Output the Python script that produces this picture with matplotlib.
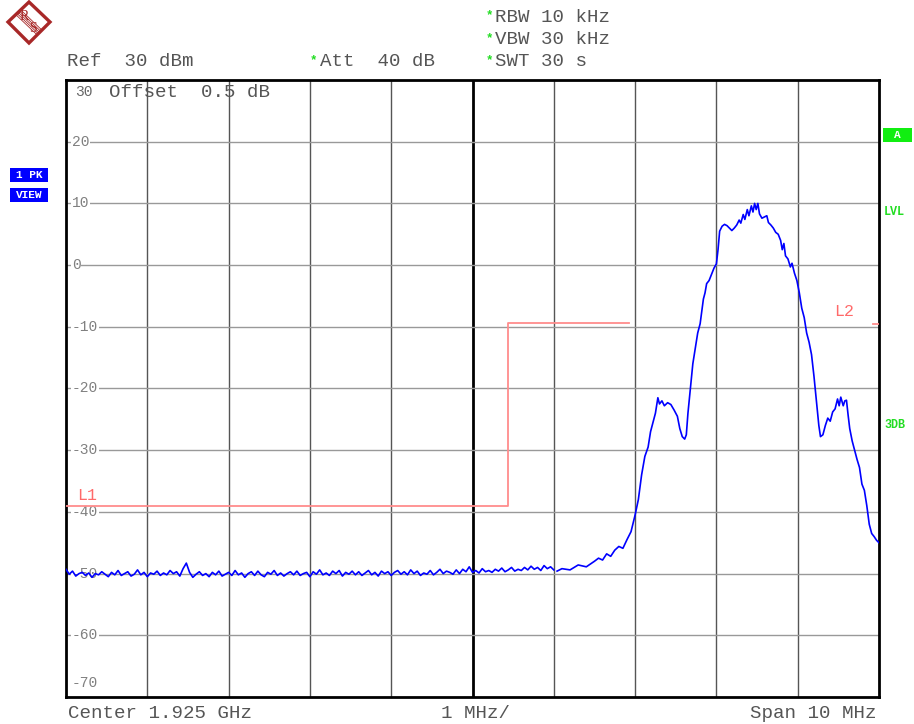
import matplotlib
matplotlib.use("Agg")
import matplotlib.pyplot as plt
import matplotlib.patches as patches
import numpy as np

# sweep data, frequency offset from centre (MHz) and level (dBm)
floor_level = [
    -49.3, -50.1, -49.6, -50.4, -50.0, -49.8, -50.3, -49.9, -50.6, -50.0,
    -50.2, -49.7, -50.1, -50.5, -49.8, -50.2, -49.5, -50.3, -50.0, -49.7,
    -50.4, -50.1, -49.4, -50.2, -49.8, -50.5, -49.9, -50.1, -49.6, -50.3,
    -49.9, -50.2, -49.5, -50.0, -49.7, -50.4, -49.2, -48.3, -49.8, -50.6,
    -50.1, -49.7, -50.3, -50.0, -50.5, -49.8, -50.2, -49.6, -50.4, -50.1,
    -49.8, -50.3, -49.5, -50.2, -49.9, -50.6, -50.0, -49.7, -50.3, -49.6,
    -50.2, -50.5, -49.8, -50.1, -49.5, -50.3, -49.9, -50.4, -50.0, -49.7,
    -50.2, -49.6, -50.3, -50.0, -49.8, -50.5, -49.7, -50.1, -49.4, -50.2,
    -49.9, -50.3, -49.6, -50.0, -49.5, -50.4, -49.8, -50.1, -49.6, -50.2,
    -49.7, -50.3, -49.9, -49.5, -50.2, -49.8, -50.4, -49.6, -50.0, -49.7,
    -50.3, -49.8, -49.5, -50.1, -49.7, -50.2, -49.4, -50.0, -49.6, -50.3,
    -49.9, -50.1, -49.5, -50.2, -49.8, -49.3, -50.0, -49.6, -49.8, -50.1,
    -49.4, -50.0, -49.3, -49.7, -48.9, -49.8, -49.5, -49.9, -49.2, -49.7,
    -49.5, -49.8, -49.3, -49.6, -49.1, -49.7, -49.4, -49.0, -49.6, -49.3,
    -49.5, -49.0, -49.4, -48.8, -49.3, -49.0, -49.5, -48.7, -49.2, -48.9,
    -49.4,
]
floor_freq = np.linspace(-5.0, 1.0, len(floor_level))

signal_freq = [
    1.04, 1.10, 1.20, 1.30, 1.40, 1.50, 1.55, 1.60, 1.65, 1.70, 1.75, 1.80,
    1.85, 1.90, 1.95, 2.00, 2.04, 2.08, 2.12, 2.16, 2.19, 2.22, 2.25, 2.28,
    2.30, 2.33, 2.36, 2.40, 2.44, 2.48, 2.52, 2.55, 2.58, 2.61, 2.63, 2.65,
    2.68, 2.71, 2.74, 2.77, 2.80, 2.84, 2.86, 2.88, 2.91, 2.94, 2.97, 3.00,
    3.02, 3.04, 3.07, 3.10, 3.13, 3.16, 3.19, 3.22, 3.25, 3.28, 3.30, 3.33,
    3.35, 3.38, 3.40, 3.43, 3.45, 3.47, 3.49, 3.51, 3.53, 3.56, 3.59, 3.62,
    3.64, 3.67, 3.70, 3.73, 3.76, 3.79, 3.81, 3.83, 3.85, 3.88, 3.91, 3.93,
    3.96, 3.99, 4.02, 4.05, 4.08, 4.11, 4.14, 4.17, 4.20, 4.23, 4.26, 4.28,
    4.31, 4.34, 4.37, 4.40, 4.43, 4.46, 4.49, 4.51, 4.53, 4.56, 4.58, 4.60,
    4.62, 4.64, 4.67, 4.70, 4.73, 4.76, 4.79, 4.82, 4.85, 4.88, 4.91, 4.94,
    4.97, 5.00,
]
signal_level = [
    -49.6, -49.2, -49.4, -48.6, -48.9, -48.0, -47.5, -47.8, -46.8, -47.2, -46.2, -45.6,
    -45.9, -44.5, -43.2, -40.5, -38.0, -34.0, -31.0, -29.5, -27.0, -25.5, -24.0, -21.5,
    -22.5, -22.0, -22.8, -22.3, -22.6, -23.5, -24.5, -26.5, -27.8, -28.2, -27.5, -24.0,
    -20.0, -16.0, -13.5, -11.0, -9.5, -5.5, -4.5, -3.0, -2.5, -1.5, -0.5, 0.2,
    2.5, 5.5, 6.3, 6.6, 6.4, 6.0, 5.6, 6.0, 6.5, 7.3, 6.8, 8.2,
    7.4, 9.0, 8.0, 9.6, 8.6, 10.0, 9.0, 10.0, 8.3, 7.6, 7.8, 8.0,
    6.9, 6.5, 6.0, 5.3, 5.0, 4.0, 2.5, 3.5, 1.5, 1.0, -0.3, 0.3,
    -1.3, -2.5, -4.5, -7.0, -8.5, -11.0, -12.5, -14.5, -18.0, -22.0, -26.0, -27.8,
    -27.5, -26.0, -24.8, -25.3, -23.8, -23.3, -21.7, -22.8, -21.4, -22.8, -22.0, -21.9,
    -24.3, -26.5, -28.5, -30.0, -31.5, -32.8, -35.5, -36.5, -39.0, -42.0, -43.5, -44.0,
    -44.6, -45.0,
]

# limit line (step) and display line
limit_freq = [-5.0, 0.44, 0.44, 1.92]
limit_level = [-39.0, -39.0, -9.4, -9.4]
l2_level = -9.5

y_ticks = [20, 10, 0, -10, -20, -30, -40, -50, -60, -70]
x_grid = [-4, -3, -2, -1, 1, 2, 3, 4]

W, H = 914, 724
mono = "Liberation Mono"
txt_col = "#555555"
green = "#22dd22"
red_line = "#ff8c8c"

fig = plt.figure(figsize=(W / 100, H / 100), dpi=100)

# overlay in pixel coordinates for the instrument annotations
ov = fig.add_axes([0, 0, 1, 1], zorder=0)
ov.set_xlim(0, W)
ov.set_ylim(H, 0)
ov.set_axis_off()

ax = fig.add_axes([66 / W, 1 - 697 / H, (879 - 66) / W, (697 - 80) / H], zorder=1)
ax.set_xlim(-5, 5)
ax.set_ylim(-70, 30)
ax.set_xticks([])
ax.set_yticks([])
for s in ax.spines.values():
    s.set_linewidth(2)
    s.set_color("black")

for x in x_grid:
    ax.axvline(x, color="#555555", lw=1, zorder=1)
ax.axvline(0, color="black", lw=2, zorder=1)
for y in y_ticks[:-1]:
    ax.axhline(y, color="#999999", lw=1, zorder=1)

for y in y_ticks:
    ypos = y if y > -70 else -67.8
    ax.text(-4.93, ypos, str(y), fontsize=10.5, family=mono, color="#808080",
            ha="left", va="center", zorder=2,
            bbox=dict(facecolor="white", edgecolor="none", pad=0.5))
ax.text(-4.89, 28.0, "30", fontsize=10.5, family=mono, color="#666666",
        ha="left", va="center", zorder=2)
ax.text(-4.47, 28.0, "Offset  0.5 dB", fontsize=13.8, family=mono, color=txt_col,
        ha="left", va="center", zorder=0.5)

ax.plot(limit_freq, limit_level, color=red_line, lw=1.3, zorder=3)
ax.plot([4.93, 5.0], [l2_level, l2_level], color=red_line, lw=1.3, zorder=3)
ax.text(-4.86, -37.3, "L1", fontsize=12, family=mono, color="#ff6a6a", ha="left", va="center")
ax.text(4.45, -7.6, "L2", fontsize=12, family=mono, color="#ff6a6a", ha="left", va="center")

ax.plot(floor_freq, floor_level, color="#0000ff", lw=1.2, zorder=4)
ax.plot(signal_freq, signal_level, color="#0000ff", lw=1.2, zorder=4)

# header
hdr = dict(fontsize=13.8, family=mono, color=txt_col, va="center", ha="left")
ov.text(67, 62, "Ref  30 dBm", **hdr)
ov.text(320, 62, "Att  40 dB", **hdr)
ov.text(495, 17, "RBW 10 kHz", **hdr)
ov.text(495, 40, "VBW 30 kHz", **hdr)
ov.text(495, 62, "SWT 30 s", **hdr)
for px, py in [(313, 60), (489, 15), (489, 38), (489, 60)]:
    ov.text(px, py, "*", fontsize=9, family=mono, color=green, ha="center",
            va="center", fontweight="bold")

# footer
ov.text(68, 713, "Center 1.925 GHz", **hdr)
ov.text(441, 713, "1 MHz/", **hdr)
ov.text(877, 713, "Span 10 MHz", fontsize=13.8, family=mono, color=txt_col,
        va="center", ha="right")

# left trace info boxes
for py, label in [(168, "1 PK"), (188, "VIEW")]:
    ov.add_patch(patches.Rectangle((10, py), 38, 14, facecolor="#0000ff", edgecolor="none"))
    ov.text(29, py + 7, label, fontsize=8, family=mono, color="white",
            fontweight="bold", ha="center", va="center")

# right side status
ov.add_patch(patches.Rectangle((883, 128), 29, 14, facecolor="#11ee11", edgecolor="none"))
ov.text(897, 135, "A", fontsize=8, family=mono, color="white", fontweight="bold",
        ha="center", va="center")
ov.text(884, 212, "LVL", fontsize=8.5, family=mono, color=green, fontweight="bold",
        ha="left", va="center")
ov.text(884, 425, "3DB", fontsize=8.5, family=mono, color=green, fontweight="bold",
        ha="left", va="center")

# R&S logo
logo_col = "#a82828"
ov.add_patch(patches.Polygon([[29, 2], [50, 22], [29, 43], [8, 22]], closed=True,
                             facecolor="white", edgecolor=logo_col, lw=2.4))
for d in [-2.4, -1.2, 0, 1.2, 2.4]:
    ov.plot([19 + d, 39 + d], [13 - d, 32 - d], color=logo_col, lw=0.6)
ov.text(24.5, 16, "R", fontsize=10, family="Liberation Serif", color=logo_col,
        ha="center", va="center")
ov.text(33.5, 29, "S", fontsize=10, family="Liberation Serif", color=logo_col,
        ha="center", va="center")

fig.savefig("out.png", dpi=100, facecolor="white")
